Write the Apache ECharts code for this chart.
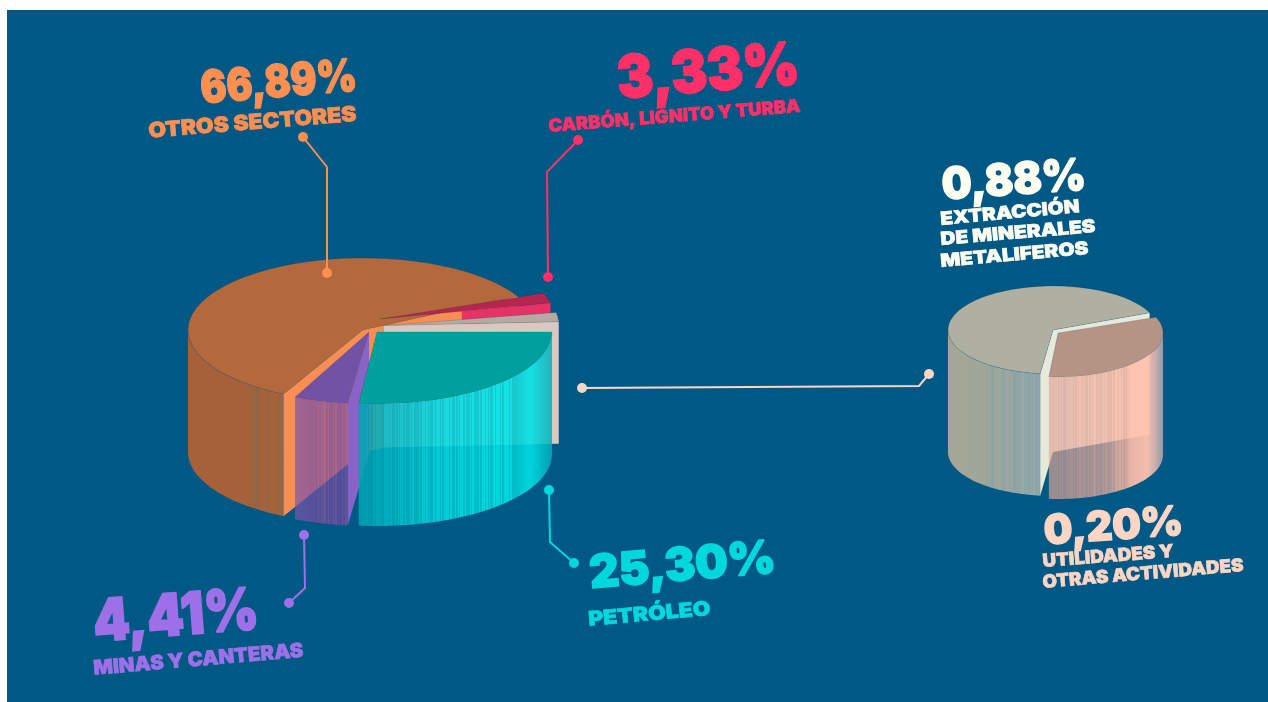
<!DOCTYPE html>
<html><head><meta charset="utf-8">
<style>html,body{margin:0;padding:0;background:#fff;width:1268px;height:702px;overflow:hidden}
#bg{position:absolute;left:7px;top:10px;width:1261px;height:692px;background:#005885}
#c{position:absolute;left:0;top:0;width:1268px;height:702px}</style>
<script src="https://cdn.jsdelivr.net/npm/echarts@6/dist/echarts.min.js"></script>
</head><body><div id="bg"></div><div id="c"></div>
<script>
// ---- data ----
const mainNames = ['PETRÓLEO','MINAS Y CANTERAS','OTROS SECTORES','CARBÓN, LIGNITO Y TURBA','RESTO'];
const mainPercents = [25.30, 4.41, 66.89, 3.33, null];
const mainSweepDeg = [96, 18, 215, 8, 7.5];          // as drawn in the picture
const mainGapDeg = [1, 2, 7, 2.5, 3];                // gap after each slice
const smallNames = ['UTILIDADES Y\nOTRAS ACTIVIDADES','EXTRACCIÓN\nDE MINERALES\nMETALIFEROS'];
const smallPercents = [0.20, 0.88];
const smallSweepDeg = [116, 240];
const smallGapDeg = [2, 2];

// ---- layout and style ----
const FONT = '"Inter","Noto Sans",sans-serif';
const MAIN = {rx:175, ry:72, h:122, start:0,
  apex:[[377,332],[369,332],[363,330],[380,319],[384,325.5]],
  paint:[2,3,4,1,0]};
const SMALL = {rx:105, ry:44, h:122, start:-21, apex:[[1058,333],[1053,330]], paint:[1,0]};
const COL = {orange:'#ff8f50',pink:'#ff2f68',white:'#fdfdf0',teal:'#00d8de',purple:'#9e70e8',peach:'#ffd5c4'};
const STRIPE = [3,1,2,1,1,3,2,1,4,1,1,2,5,1,2];

function angles(sweeps,gaps,start){let a=start,o=[];sweeps.forEach((s,i)=>{o.push([a,a+s]);a+=s+gaps[i];});return o;}
function P(c,G,t){const r=t*Math.PI/180;return [c[0]+G.rx*Math.cos(r),c[1]+G.ry*Math.sin(r)];}
function arc(c,G,a0,a1){const n=48,o=[];for(let i=0;i<=n;i++)o.push(P(c,G,a0+(a1-a0)*i/n));return o;}
function down(p,h){return [p[0],p[1]+h];}
function poly(points,fill,extra){return Object.assign({type:'polygon',shape:{points},style:{fill}},extra||{});}
function face(c,G,a0,a1,fill){return poly([c].concat(arc(c,G,a0,a1)),fill,{style:{fill,stroke:'rgba(0,60,90,.35)',lineWidth:.5}});}
// outer wall: only the part of the rim facing the viewer (0..180 degrees) is visible
function wall(c,G,a0,a1,fill){const t=arc(c,G,Math.max(a0,0),a1);return poly(t.concat(t.slice().reverse().map(p=>down(p,G.h))),fill);}
function cut(c,G,t,fill,from){const e=P(c,G,t),k=from||0,s=[c[0]+(e[0]-c[0])*k,c[1]+(e[1]-c[1])*k];return poly([s,e,down(e,G.h),down(s,G.h)],fill);}
function css(a){return 'rgba('+a[0]+','+a[1]+','+a[2]+','+(a[3]==null?1:a[3])+')';}
function mixAt(stops,x){
  for(let i=1;i<stops.length;i++){if(x<=stops[i][0]){const A=stops[i-1],B=stops[i],k=(x-A[0])/(B[0]-A[0]||1);
    return A[1].map((v,j)=>j<3?Math.round(v+(B[1][j]-v)*k):v+(B[1][j]-v)*k);}}
  return stops[stops.length-1][1];
}
// horizontal gradient with hard-edged vertical bands between sx0 and sx1
function banded(stops,sx0,sx1,band,amount){
  const x0=stops[0][0],x1=stops[stops.length-1][0],out=[];
  const add=(x,c)=>out.push({offset:Math.min(1,Math.max(0,(x-x0)/(x1-x0))),color:css(c)});
  stops.filter(s=>s[0]<sx0).forEach(s=>add(s[0],s[1]));
  let x=sx0,i=0,on=false;
  while(x<sx1){const w=STRIPE[i++%STRIPE.length],nx=Math.min(sx1,x+w);
    const f=v=>{const c=mixAt(stops,v);if(!on)return c;return c.map((q,j)=>j<3?Math.round(q+(band[j]-q)*amount):q);};
    add(x,f(x));add(nx,f(nx));x=nx;on=!on;}
  stops.filter(s=>s[0]>sx1).forEach(s=>add(s[0],s[1]));
  return new echarts.graphic.LinearGradient(x0,0,x1,0,out,true);
}

const mainA = angles(mainSweepDeg,mainGapDeg,MAIN.start);
const smallA = angles(smallSweepDeg,smallGapDeg,SMALL.start);

function mainSlice(i){
  const c=MAIN.apex[i],G=MAIN,a=mainA[i],ch=[];
  if(i===2){ // big orange slice
    ch.push(wall(c,G,a[0],180,banded([[188,[166,96,58]],[284,[168,98,58]]],248,284,[110,105,90],.4)));
    ch.push(face(c,G,a[0],a[1],'#b3693c'));
    ch.push(cut(c,G,a[1],'#f98e52'));
    ch.push(cut(c,G,a[0],'#f98e52'));
  } else if(i===3){ // pink
    ch.push(cut(c,G,a[1],'#e63264',.48));
    ch.push(face(c,G,a[0],a[1],'#b5264f'));
  } else if(i===4){ // grey
    ch.push(cut(c,G,a[1],'#d8c8c0'));
    ch.push(face(c,G,a[0],a[1],'#b4aaa2'));
  } else if(i===1){ // purple
    ch.push(cut(c,G,a[0],'rgba(138,99,200,1)'));
    ch.push(face(c,G,a[0],a[1],'#7252a4'));
    ch.push(wall(c,G,a[0],a[1],banded([[297,[125,85,170,.7]],[312,[118,78,165,.72]],[348,[110,72,170,.72]]],315,346,[165,100,140,.7],.5)));
  } else { // teal
    ch.push(face(c,G,a[0],a[1],'#00a09e'));
    ch.push(wall(c,G,a[0],a[1],banded([[360,[0,165,180,.86]],[420,[0,210,218,.88]],[470,[0,228,232,.9]],[530,[0,228,232,.9]],[553,[0,170,185,.82]]],362,515,[0,130,150,.9],.28)));
  }
  return {type:'group',children:ch};
}
function smallSlice(i){
  const c=SMALL.apex[i],G=SMALL,a=smallA[i],ch=[];
  if(i===1){
    ch.push(wall(c,G,a[0],180,banded([[948,[166,166,150]],[983,[160,166,152]],[1043,[148,170,172]]],983,1043,[125,160,170],.45)));
    ch.push(cut(c,G,a[1],'#e6eadb'));
    ch.push(cut(c,G,a[0],'#e6eadb'));
    ch.push(face(c,G,a[0],a[1],'#b0b0a2'));
  } else {
    ch.push(face(c,G,a[0],a[1],'#b69485'));
    ch.push(wall(c,G,a[0],a[1],banded([[1050,[225,165,150,.68]],[1105,[250,180,160,.72]],[1130,[255,190,170,.9]],[1147,[255,195,175,.95]],[1155,[225,185,175,.9]],[1163,[160,158,170,.92]]],1055,1125,[150,130,135,.68],.22)));
  }
  return {type:'group',children:ch};
}

// ---- labels ----
const pct=v=>v.toFixed(2).replace('.',',')+'%';
const smallLines=smallNames.map(s=>s.split('\n'));
const labelItems=[
 {t:pct(mainPercents[2]),c:COL.orange,s:45,l:[202,106,358,93]},
 {t:mainNames[2],c:COL.orange,s:21,l:[149,139,357,122]},
 {t:pct(mainPercents[3]),c:COL.pink,s:59,l:[619,102,801,87]},
 {t:mainNames[3],c:COL.pink,s:18,l:[549,133,801,113]},
 {t:pct(smallPercents[1]),c:COL.white,s:44,l:[943,202,1087,192]},
 {t:smallLines[1][0],c:COL.white,s:18,l:[941,226,1080,213]},
 {t:smallLines[1][1],c:COL.white,s:18,l:[941,246,1096,233]},
 {t:smallLines[1][2],c:COL.white,s:18,l:[941,268,1089,255]},
 {t:pct(mainPercents[0]),c:COL.teal,s:46,l:[591,591,777,575]},
 {t:mainNames[0],c:COL.teal,s:20,l:[589,627,711,616]},
 {t:pct(mainPercents[1]),c:COL.purple,s:58,l:[95,645,260,632]},
 {t:mainNames[1],c:COL.purple,s:20,l:[94,676,304,658]},
 {t:pct(smallPercents[0]),c:COL.peach,s:41,l:[1045,547,1184,537]},
 {t:smallLines[0][0],c:COL.peach,s:18,l:[1043,568,1174,558]},
 {t:smallLines[0][1],c:COL.peach,s:18,l:[1043,589,1244,572]}
];
const leaders=[
 {c:COL.orange,p:[[303,137],[327,167],[327,273]]},
 {c:COL.pink,p:[[578,140],[547,172],[548,277]]},
 {c:COL.teal,p:[[549,490],[550,542],[574,563]]},
 {c:COL.purple,p:[[304,535],[305,588],[289,603]]},
 {c:COL.peach,p:[[582,388],[919,386],[929,374]]}
];
const mc=document.createElement('canvas').getContext('2d');
function labelEl(it){
  const font='900 '+it.s+'px '+FONT;mc.font=font;
  const w=mc.measureText(it.t).width,[x0,y0,x1,y1]=it.l,len=Math.hypot(x1-x0,y1-y0);
  return {type:'text',x:x0,y:y0,rotation:Math.atan2(y0-y1,x1-x0),scaleX:len/w,
    style:{text:it.t,x:0,y:-0.36*it.s,font,fill:it.c,stroke:it.c,lineWidth:it.s*0.035,align:'left',verticalAlign:'middle'}};
}
function leaderEl(l){
  const e=[l.p[0],l.p[l.p.length-1]];
  return {type:'group',children:[
    {type:'polyline',shape:{points:l.p},style:{stroke:l.c,lineWidth:2,fill:null}},
    ...e.map(p=>({type:'circle',shape:{cx:p[0],cy:p[1],r:5},style:{fill:l.c}}))]};
}

const chart=echarts.init(document.getElementById('c'),null,{renderer:'canvas'});
chart.setOption({
  animation:false,
  tooltip:{show:false},
  series:[
   {type:'custom',coordinateSystem:'none',silent:true,clip:false,data:MAIN.paint.map(i=>[i]),
    renderItem:(p,api)=>mainSlice(api.value(0))},
   {type:'custom',coordinateSystem:'none',silent:true,clip:false,data:SMALL.paint.map(i=>[i]),
    renderItem:(p,api)=>smallSlice(api.value(0))},
   {type:'custom',coordinateSystem:'none',silent:true,clip:false,data:leaders.map((_,i)=>[i]),
    renderItem:(p,api)=>leaderEl(leaders[api.value(0)])},
   {type:'custom',coordinateSystem:'none',silent:true,clip:false,data:labelItems.map((_,i)=>[i]),
    renderItem:(p,api)=>labelEl(labelItems[api.value(0)])}
  ]
});
</script></body></html>
